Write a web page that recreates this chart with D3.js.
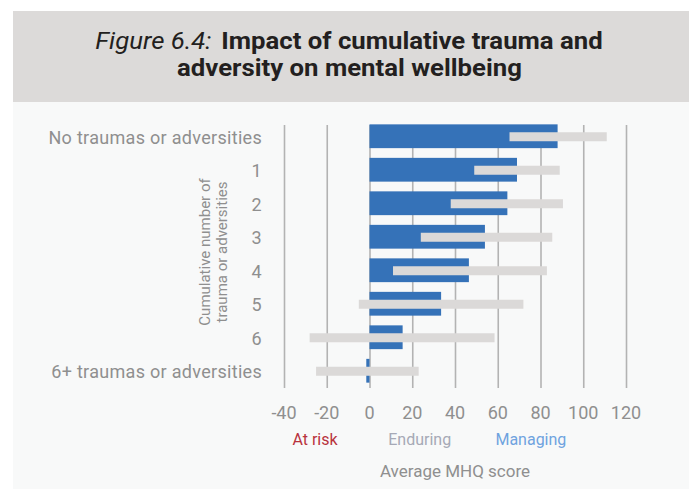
<!DOCTYPE html>
<html>
<head>
<meta charset="utf-8">
<script src="https://cdn.jsdelivr.net/npm/d3@7"></script>
<style>
  html, body { margin: 0; padding: 0; background: #ffffff; }
  svg { display: block; font-family: Roboto, "Noto Sans", sans-serif; }
</style>
</head>
<body>
<svg id="chart" width="689" height="489"></svg>
<script>
// Categories (cumulative number of traumas / adversities)
const categories = [
  "No traumas or adversities", "1", "2", "3", "4", "5", "6",
  "6+ traumas or adversities"
];
// Average MHQ score per group
const meanScores = [88, 69, 64.5, 54, 46.5, 33.5, 15.5, -1.5];
// Spread of MHQ scores (low / high ends of the grey range bar)
const rangeLow = [65.5, 49, 38, 24, 11, -5, -28, -25];
const rangeHigh = [111, 89, 90.5, 85.5, 83, 72, 58.5, 23];
// Axis ticks
const xTicks = [-40, -20, 0, 20, 40, 60, 80, 100, 120];
// Score bands
const bandLabels = ["At risk", "Enduring", "Managing"];
const bandCentres = [-25.5, 23.5, 75.5];

const svg = d3.select("#chart");
const W = 689, H = 489;

// Title panel and plot panel backgrounds
svg.append("rect").attr("x", 13).attr("y", 11).attr("width", W - 13).attr("height", 91)
  .attr("fill", "#dcdad9");
svg.append("rect").attr("x", 13).attr("y", 102).attr("width", W - 13).attr("height", H - 102)
  .attr("fill", "#f8f9f9");

// Title, two centred lines in a condensed look
function fitLine(sel, target, cx) {
  const w = sel.node().getComputedTextLength();
  const s = target / w;
  sel.attr("text-anchor", "middle")
     .attr("transform", `translate(${cx},0) scale(${s},1)`)
     .attr("x", 0);
}
const t1 = svg.append("text").attr("y", 49).attr("font-size", 24).attr("fill", "#231f20");
t1.append("tspan").attr("font-style", "italic").attr("font-weight", 400).text("Figure 6.4:");
t1.append("tspan").attr("font-weight", 700).attr("dx", 9).text("Impact of cumulative trauma and");
fitLine(t1, 498, 349);
const t2 = svg.append("text").attr("y", 76).attr("font-size", 24).attr("font-weight", 700)
  .attr("fill", "#231f20").text("adversity on mental wellbeing");
fitLine(t2, 345, 349.5);

// Scales
const x = d3.scaleLinear().domain([-40, 120]).range([284, 626]);
const y = d3.scaleBand().domain(categories).range([120.25, 386.75])
  .paddingInner(0.29).paddingOuter(0.1225);

const gridTop = 125, gridBottom = 388;

// Vertical gridlines via the bottom axis
const gx = svg.append("g").attr("transform", `translate(0,${gridBottom})`)
  .call(d3.axisBottom(x).tickValues(xTicks).tickSize(-(gridBottom - gridTop)).tickFormat(""));
gx.select(".domain").remove();
gx.selectAll(".tick line").attr("stroke", "#b3b3b3").attr("stroke-width", 1.6);

// Tick labels
svg.append("g").selectAll("text").data(xTicks).join("text")
  .attr("x", d => x(d)).attr("y", 419)
  .attr("text-anchor", "middle").attr("font-size", 18).attr("fill", "#8f8f8f")
  .text(d => d);

// Mean score bars
svg.append("g").selectAll("rect").data(categories).join("rect")
  .attr("x", (d, i) => x(Math.min(0, meanScores[i])))
  .attr("width", (d, i) => Math.abs(x(meanScores[i]) - x(0)))
  .attr("y", d => y(d))
  .attr("height", y.bandwidth())
  .attr("fill", "#3572b8");

// Range bars
const rh = 9;
svg.append("g").selectAll("rect").data(categories).join("rect")
  .attr("x", (d, i) => x(rangeLow[i]))
  .attr("width", (d, i) => x(rangeHigh[i]) - x(rangeLow[i]))
  .attr("y", d => y(d) + y.bandwidth() / 2 - rh / 2 + 0.5)
  .attr("height", rh)
  .attr("fill", "#dbd9d8");

// Category labels
svg.append("g").selectAll("text").data(categories).join("text")
  .attr("x", 262).attr("y", d => y(d) + y.bandwidth() / 2 + 1)
  .attr("dy", "0.35em").attr("text-anchor", "end")
  .attr("font-size", 18).attr("letter-spacing", 0.3).attr("fill", "#8f8f8f")
  .text(d => d);

// Rotated axis title
const yt = svg.append("text")
  .attr("transform", "translate(213,252) rotate(-90)")
  .attr("text-anchor", "middle").attr("font-size", 15).attr("fill", "#8f8f8f");
yt.append("tspan").attr("x", 0).attr("y", -3).text("Cumulative number of");
yt.append("tspan").attr("x", 0).attr("y", 14).text("trauma or adversities");

// Score band labels
const bandColors = ["#b8333d", "#a6a9b6", "#6fa3df"];
svg.append("g").selectAll("text").data(bandLabels).join("text")
  .attr("x", (d, i) => x(bandCentres[i])).attr("y", 445)
  .attr("text-anchor", "middle").attr("font-size", 16)
  .attr("fill", (d, i) => bandColors[i])
  .text(d => d);

// X-axis title
svg.append("text").attr("x", 455).attr("y", 477).attr("text-anchor", "middle")
  .attr("font-size", 17).attr("fill", "#8f8f8f").text("Average MHQ score");
</script>
</body>
</html>
